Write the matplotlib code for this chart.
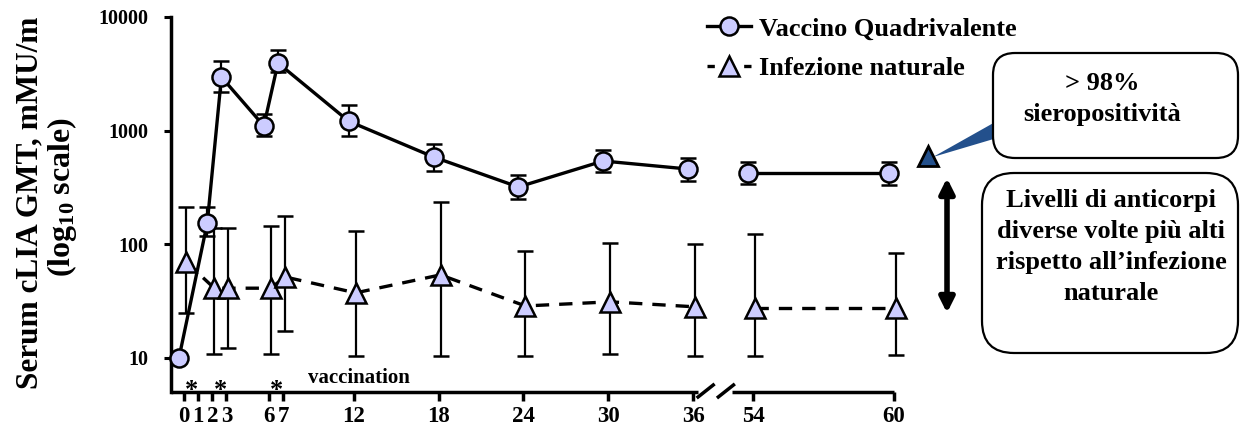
import numpy as np
import matplotlib
matplotlib.use("Agg")
from matplotlib import pyplot as plt
from matplotlib import transforms as mtrans
from matplotlib.lines import Line2D
from matplotlib.patches import FancyBboxPatch, Polygon, FancyArrowPatch

plt.rcParams['font.family'] = 'Liberation Serif'
plt.rcParams['font.weight'] = 'bold'
plt.rcParams['mathtext.fontset'] = 'custom'
plt.rcParams['mathtext.rm'] = 'Liberation Serif:bold'
plt.rcParams['mathtext.bf'] = 'Liberation Serif:bold'
plt.rcParams['mathtext.default'] = 'bf'

# data (months after first dose, GMT with error bar ends)
months = np.array([0, 2, 3, 6, 7, 12, 18, 24, 30, 36, 54, 60])
vacc_gmt = np.array([10, 154, 2960, 1100, 3940, 1210, 586, 319, 540, 459, 424, 424])
vacc_lo = np.array([10, 118, 2180, 895, 3270, 895, 441, 250, 432, 360, 339, 332])
vacc_hi = np.array([10, 213, 4090, 1400, 5120, 1680, 763, 407, 675, 574, 529, 529])
nat_gmt = np.array([70, 41, 41, 41, 51.5, 37.3, 53.7, 28.6, 31.1, 28.1, 27.5, 27.5])
nat_lo = np.array([24.9, 10.8, 12.2, 10.8, 17.3, 10.4, 10.4, 10.4, 10.8, 10.4, 10.4, 10.6])
nat_hi = np.array([213, 139, 139, 145, 177, 131, 235, 87, 103, 101, 123, 84])

xticks = [0, 1, 2, 3, 6, 7, 12, 18, 24, 30, 36, 54, 60]
yticks = [10, 100, 1000, 10000]
vacc_months = [0, 2, 6]

labels = ['Vaccino Quadrivalente', 'Infezione naturale']
box1_text = '> 98%\nsieropositività'
box2_text = 'Livelli di anticorpi\ndiverse volte più alti\nrispetto all\u2019infezione\nnaturale'

LAV = '#CCCCFF'
NAVY = '#23508C'

# broken time axis: 36 -> 54 squeezed
knot_m = np.array([-10, 0, 36, 54, 70])
knot_p = np.array([42.6, 184, 693, 753, 1129])


def fwd(x):
    return np.interp(x, knot_m, knot_p)


def inv(p):
    return np.interp(p, knot_p, knot_m)


W, H = 1243, 426
fig = plt.figure(figsize=(W / 100, H / 100), dpi=100)
ax = fig.add_axes([171 / W, (H - 392) / H, (894 - 171) / W, (392 - 17) / H])
ax.set_xscale('function', functions=(fwd, inv))
ax.set_yscale('log')
ax.set_xlim(-0.92, 60)
ax.set_ylim(5.0, 10000)

# pixel coords, origin top-left
pxT = mtrans.Affine2D().scale(0.01, -0.01).translate(0, H / 100) + fig.dpi_scale_trans

tr_c = ax.transData + mtrans.ScaledTranslation(-5 / 100, 0, fig.dpi_scale_trans)
tr_t = ax.transData + mtrans.ScaledTranslation(2 / 100, 0, fig.dpi_scale_trans)

early = months <= 36
late = months >= 54

# natural infection (dashed, triangles)
ax.errorbar(months, nat_gmt, yerr=[nat_gmt - nat_lo, nat_hi - nat_gmt], fmt='none',
            ecolor='k', elinewidth=1.6, capsize=5.5, capthick=1.8, transform=tr_t, zorder=2,
            clip_on=False)
for m in (early, late):
    ax.plot(months[m], nat_gmt[m], color='k', lw=2.4, ls=(0, (4, 3)), transform=tr_t, zorder=3,
            clip_on=False)
ax.plot(months, nat_gmt, ls='none', marker='^', ms=14, mfc=LAV, mec='k', mew=1.8,
        transform=tr_t, zorder=4, clip_on=False)

# vaccine (solid, circles)
ax.errorbar(months, vacc_gmt, yerr=[vacc_gmt - vacc_lo, vacc_hi - vacc_gmt], fmt='none',
            ecolor='k', elinewidth=1.6, capsize=5.5, capthick=1.8, transform=tr_c, zorder=5,
            clip_on=False)
for m in (early, late):
    ax.plot(months[m], vacc_gmt[m], color='k', lw=2.4, transform=tr_c, zorder=6, clip_on=False)
ax.plot(months, vacc_gmt, ls='none', marker='o', ms=13, mfc=LAV, mec='k', mew=1.8,
        transform=tr_c, zorder=7, clip_on=False)

# axes styling
for s in ('top', 'right', 'bottom'):
    ax.spines[s].set_visible(False)
ax.spines['left'].set_linewidth(2.5)
ax.set_yticks(yticks)
ax.set_yticklabels([str(v) for v in yticks], fontsize=14.5)
ax.yaxis.set_minor_locator(matplotlib.ticker.NullLocator())
ax.set_xticks(xticks)
ax.set_xticklabels([str(v) for v in xticks], fontsize=16.5)
ax.xaxis.set_minor_locator(matplotlib.ticker.NullLocator())
ax.tick_params(axis='y', length=5, width=2.2, pad=11)
ax.tick_params(axis='x', length=6.5, width=2.5, pad=3.5)

# bottom spine with break marks
ax.plot([0, 0.729], [0, 0], color='k', lw=2.5, transform=ax.transAxes, clip_on=False,
        solid_capstyle='butt')
ax.plot([0.776, 1.0], [0, 0], color='k', lw=2.5, transform=ax.transAxes, clip_on=False,
        solid_capstyle='butt')
ax.plot([0.729, 0.750], [-0.0133, 0.0187], color='k', lw=2.5, transform=ax.transAxes,
        clip_on=False)
ax.plot([0.757, 0.778], [-0.0133, 0.0187], color='k', lw=2.5, transform=ax.transAxes,
        clip_on=False)

# vaccination marks
tr_star = mtrans.blended_transform_factory(ax.transData, ax.transAxes) + \
    mtrans.ScaledTranslation(8 / 100, 0, fig.dpi_scale_trans)
for m in vacc_months:
    ax.text(m, -0.012, '*', transform=tr_star, ha='center', va='baseline', fontsize=19)
ax.text(12.4, 0.024, 'vaccination', transform=mtrans.blended_transform_factory(ax.transData, ax.transAxes),
        ha='center', va='baseline', fontsize=15)

# y label, two lines
fig.text(30 / W, (H - 389) / H, 'Serum cLIA GMT, mMU/m', rotation=90, ha='center', va='bottom',
         fontsize=22.5)
fig.text(62 / W, (H - 197) / H, '(log$_{10}$ scale)', rotation=90, ha='center', va='center',
         fontsize=23)

# legend
handles = [
    Line2D([], [], color='k', lw=2.4, marker='o', ms=13, mfc=LAV, mec='k', mew=1.8),
    Line2D([], [], color='k', lw=2.4, ls=(0, (2.2, 3.3)), marker='^', ms=14, mfc=LAV, mec='k', mew=1.8),
]
fig.legend(handles, labels, loc='upper left', bbox_to_anchor=(707 / W, 1 - 17 / H), frameon=False,
           fontsize=19, handlelength=1.67, handletextpad=0.3, labelspacing=0.62,
           borderpad=0, borderaxespad=0)

# right side annotations
fig.add_artist(Polygon([(933, 157), (997, 121), (997, 138)], closed=True, fc=NAVY, ec='none',
                       transform=pxT))
fig.add_artist(Line2D([928], [156], marker='^', ms=15, mfc=NAVY, mec='k', mew=2, ls='none',
                      transform=pxT))
fig.add_artist(FancyBboxPatch((993, 53), 245, 105, boxstyle='round,pad=0,rounding_size=22',
                              fc='white', ec='k', lw=1.6, transform=pxT))
fig.text(1102, 99, box1_text, transform=pxT, ha='center', va='center', fontsize=19,
         linespacing=1.45)
fig.add_artist(FancyBboxPatch((982, 173), 256, 180, boxstyle='round,pad=0,rounding_size=32',
                              fc='white', ec='k', lw=1.6, transform=pxT))
fig.text(1111, 247, box2_text, transform=pxT, ha='center', va='center', fontsize=19,
         linespacing=1.45)
fig.add_artist(FancyArrowPatch((947, 178), (947, 313), arrowstyle='<|-|>', mutation_scale=22,
                               lw=4, color='k', shrinkA=0, shrinkB=0, transform=pxT))

fig.savefig('out.png', dpi=100)
